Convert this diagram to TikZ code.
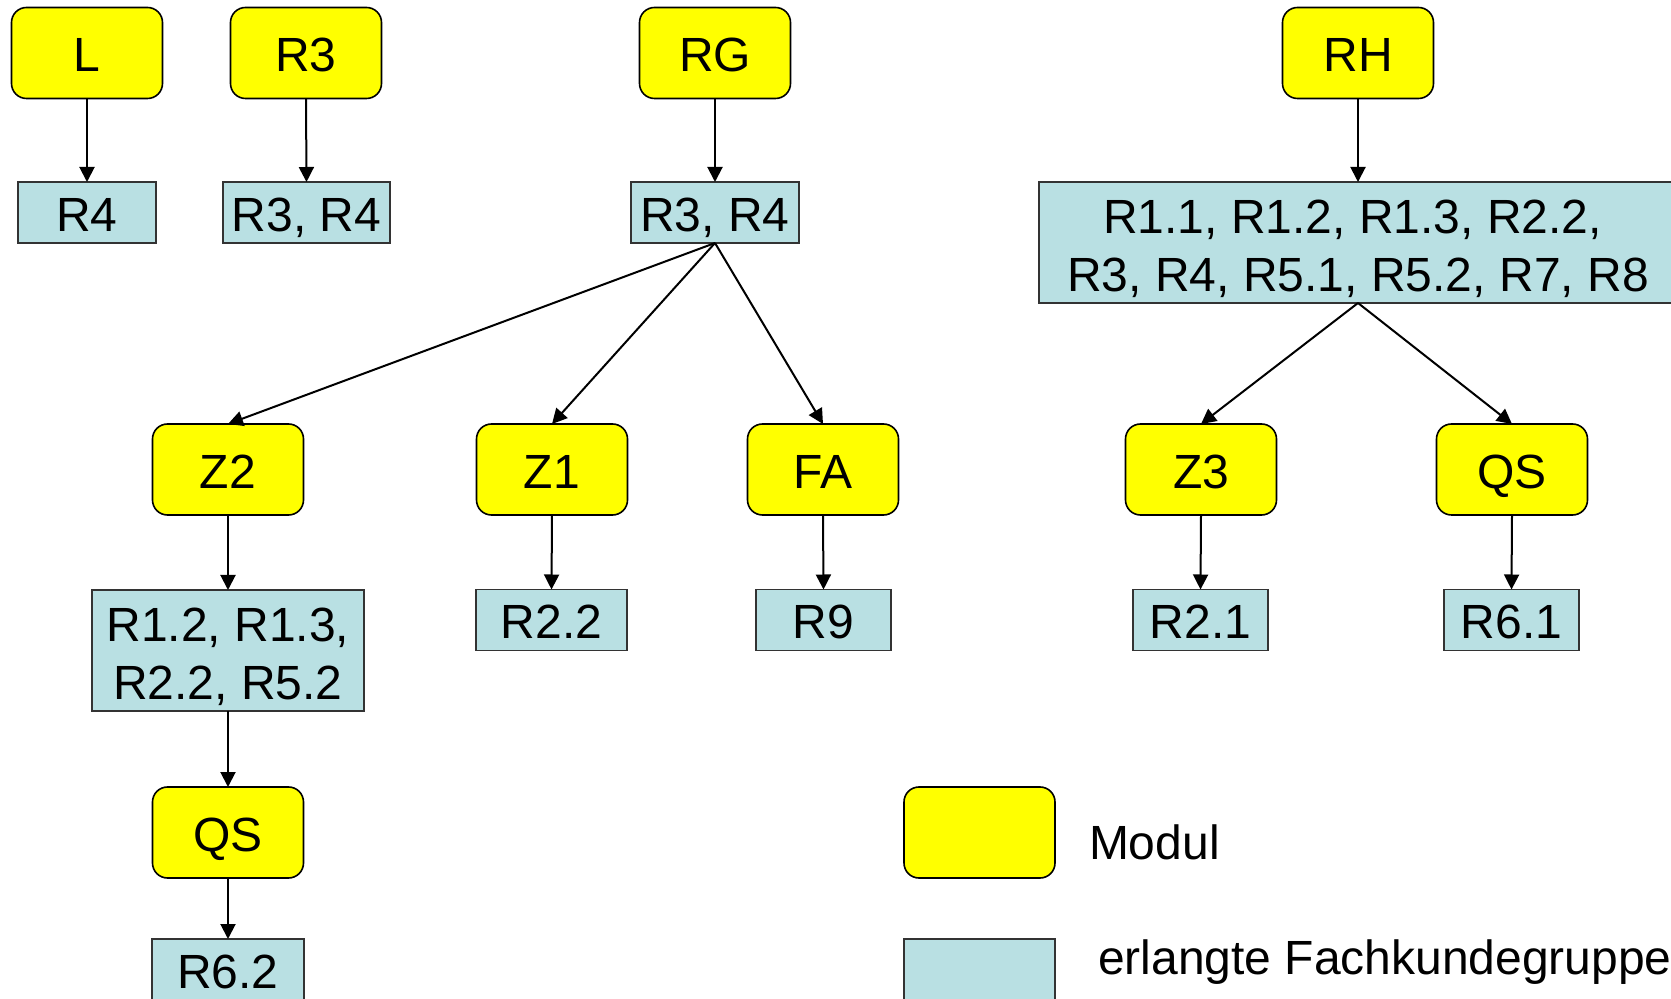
\documentclass[tikz,border=0pt]{standalone}
\usepackage{fontspec}
\setmainfont{Liberation Sans}
\usetikzlibrary{arrows.meta}
\definecolor{modyellow}{RGB}{255,255,0}
\definecolor{fkblue}{RGB}{185,224,227}
\begin{document}
\begin{tikzpicture}[x=0.5pt,y=-0.5pt,
  every node/.style={font=\fontsize{24}{29}\selectfont, inner sep=0pt, outer sep=0pt},
  oneline/.style={text height=19pt, text depth=0pt},
  twoline/.style={text height=48.7pt, text depth=0pt},
  modbox/.style={draw=black, line width=0.8pt, fill=modyellow, rounded corners=7.5pt,
    minimum width=75.5pt, minimum height=45.5pt, oneline},
  fkbox/.style={draw=black!80, line width=0.8pt, fill=fkblue, minimum height=30.5pt, align=center},
  conn/.style={line width=1pt, -{Triangle[length=7.5pt,width=7.5pt]}}
]
\useasboundingbox (0,0) rectangle (1671,999);

% modules
\node[modbox] (L)  at (87,53)  {L};
\node[modbox] (R3m) at (306,53) {R3};
\node[modbox] (RG) at (715,53) {RG};
\node[modbox] (RH) at (1358,53) {RH};
\node[modbox] (Z2) at (228,469.5) {Z2};
\node[modbox] (Z1) at (552,469.5) {Z1};
\node[modbox] (FA) at (823,469.5) {FA};
\node[modbox] (Z3) at (1201,469.5) {Z3};
\node[modbox] (QSa) at (1512,469.5) {QS};
\node[modbox] (QSb) at (228,832.5) {QS};

% Fachkundegruppen
\node[fkbox, oneline, minimum width=69pt] (b1) at (87,212.5) {R4};
\node[fkbox, oneline, minimum width=83.5pt] (b2) at (306.5,212.5) {R3, R4};
\node[fkbox, oneline, minimum width=84pt] (b3) at (715,212.5) {R3, R4};
\node[fkbox, twoline, minimum width=319pt, minimum height=60.5pt] (b4) at (1358,242.5)
  {R1.1, R1.2, R1.3, R2.2,\kern5.5pt\\R3, R4, R5.1, R5.2, R7, R8};
\node[fkbox, twoline, minimum width=136pt, minimum height=60.5pt] (b5) at (228,650.5)
  {R1.2, R1.3,\\R2.2, R5.2};
\node[fkbox, oneline, minimum width=75.5pt] (b6) at (551.5,620) {R2.2};
\node[fkbox, oneline, minimum width=67.5pt] (b7) at (823.5,620) {R9};
\node[fkbox, oneline, minimum width=67.5pt] (b8) at (1200.5,620) {R2.1};
\node[fkbox, oneline, minimum width=67.5pt] (b9) at (1511.5,620) {R6.1};
\node[fkbox, oneline, minimum width=76pt] (b10) at (228,969.5) {R6.2};

% connectors
\draw[conn] (L.south) -- (b1.north);
\draw[conn] (R3m.south) -- (b2.north);
\draw[conn] (RG.south) -- (b3.north);
\draw[conn] (RH.south) -- (b4.north);
\draw[conn] (b3.south) -- (Z2.north);
\draw[conn] (b3.south) -- (Z1.north);
\draw[conn] (b3.south) -- (FA.north);
\draw[conn] (b4.south) -- (Z3.north);
\draw[conn] (b4.south) -- (QSa.north);
\draw[conn] (Z2.south) -- (b5.north);
\draw[conn] (Z1.south) -- (b6.north);
\draw[conn] (FA.south) -- (b7.north);
\draw[conn] (Z3.south) -- (b8.north);
\draw[conn] (QSa.south) -- (b9.north);
\draw[conn] (b5.south) -- (QSb.north);
\draw[conn] (QSb.south) -- (b10.north);

% legend
\node[modbox] (legmod) at (979.5,832.5) {};
\node[fkbox, minimum width=75.5pt] (legfk) at (979.5,969.5) {};
\node[anchor=west] (legmodtxt) at (1089,842) {Modul};
\node[anchor=west] (legfktxt) at (1098,962) {erlangte Fachkundegruppe};
\end{tikzpicture}
\end{document}
